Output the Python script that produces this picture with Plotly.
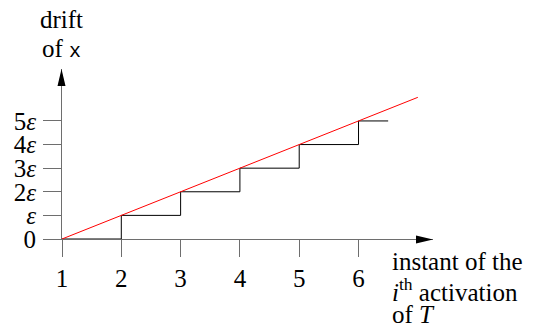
import plotly.graph_objects as go

# ---- data ----
instants = [1, 2, 3, 4, 5, 6]
drift = [0, 1, 2, 3, 4, 5]
step_end = 6.5
bound_x = [1, 7]
bound_y = [0, 6]
x_ticks = [1, 2, 3, 4, 5, 6]
x_tick_labels = ["1", "2", "3", "4", "5", "6"]
y_ticks = [0, 1, 2, 3, 4, 5]
y_tick_labels = ["0", "<i>ε</i>", "2<i>ε</i>", "3<i>ε</i>", "4<i>ε</i>", "5<i>ε</i>"]

# ---- layout geometry (page pixels) ----
W, H = 555, 330
PL, PR, PT, PB = 62, 433, 69, 239          # plot area in page pixels
L, R, T, B = PL, W - PR, PT, H - PB
x_range = [1, 7.256]
y_range = [0, 7.2]
FONT = "Liberation Serif"
FS = 25
AXC = "#6e6e6e"


def px(xp):
    return (xp - PL) / (PR - PL)


def py(yp):
    return (PB - yp) / (PB - PT)


step_x = instants + [step_end]
step_y = drift + [drift[-1]]

fig = go.Figure()
fig.add_trace(go.Scatter(x=step_x, y=step_y, mode="lines",
                         line=dict(color="black", width=1, shape="hv"),
                         hoverinfo="skip", showlegend=False))
fig.add_trace(go.Scatter(x=bound_x, y=bound_y, mode="lines",
                         line=dict(color="#ff0000", width=1),
                         hoverinfo="skip", showlegend=False))

axis_common = dict(showgrid=False, zeroline=False, showline=True,
                   linecolor=AXC, linewidth=1, ticks="outside",
                   tickcolor=AXC, tickwidth=1, layer="below traces",
                   tickfont=dict(family=FONT, size=FS, color="black"),
                   fixedrange=True, automargin=False)

fig.update_xaxes(range=x_range, tickvals=x_ticks, ticktext=x_tick_labels,
                 ticklen=17, **axis_common)
fig.update_yaxes(range=y_range, tickvals=y_ticks, ticktext=y_tick_labels,
                 ticklen=18, ticklabelstandoff=2, **axis_common)

shapes = [
    dict(type="path", xref="paper", yref="paper", xsizemode="pixel",
         ysizemode="pixel", xanchor=1, yanchor=0,
         path="M0,-0.5 L-17,3.5 L-17,-4.5 Z", fillcolor="black",
         line=dict(width=0)),
    dict(type="path", xref="paper", yref="paper", xsizemode="pixel",
         ysizemode="pixel", xanchor=0, yanchor=1,
         path="M-0.5,0 L-4.5,-17 L3.5,-17 Z", fillcolor="black",
         line=dict(width=0)),
]

tf = dict(family=FONT, size=FS, color="black")
ann = []


def label(text, xp, yp, xanchor):
    ann.append(dict(text=text, xref="paper", yref="paper", x=px(xp),
                    y=py(yp), xanchor=xanchor, yanchor="middle",
                    showarrow=False, font=tf))


label("drift", 61.5, 27.3 - 0.3 * FS, "center")
label('of <span style="font-family:Liberation Mono;font-size:20px">x</span>',
      61.5, 57 - 0.3 * FS, "center")
label("instant of the", 390, 269 - 0.3 * FS, "left")
label("<i>i</i><sup>th</sup> activation", 390, 297 - 0.3 * FS, "left")
label("of <i>T</i>", 390, 322 - 0.3 * FS, "left")

fig.update_layout(width=W, height=H, margin=dict(l=L, r=R, t=T, b=B),
                  paper_bgcolor="white", plot_bgcolor="white",
                  shapes=shapes, annotations=ann, showlegend=False)

fig.write_html("out.html", config={"displayModeBar": False},
               post_script="document.body.style.margin='0px';")
